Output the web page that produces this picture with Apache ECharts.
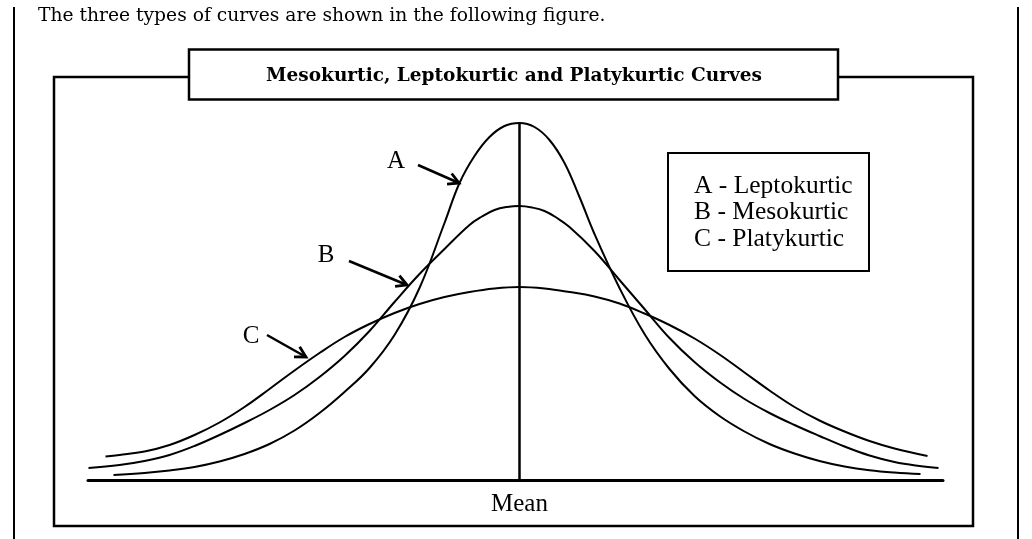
<!DOCTYPE html>
<html>
<head>
<meta charset="utf-8">
<script src="https://cdn.jsdelivr.net/npm/echarts@6/dist/echarts.min.js"></script>
<style>
  html, body { margin: 0; padding: 0; background: #ffffff; }
  #chart { width: 1032px; height: 539px; }
</style>
</head>
<body>
<div id="chart"></div>
<script>
// Text content
const introText = 'The three types of curves are shown in the following figure.';
const titleText = 'Mesokurtic, Leptokurtic and Platykurtic Curves';
const curveLetters = ['A', 'B', 'C'];
const curveNames = ['Leptokurtic', 'Mesokurtic', 'Platykurtic'];
const meanLabel = 'Mean';
const meanX = 0;

// Frequency curves: [deviation from mean, relative frequency]
const leptokurtic = [
  [-4.06, 0.05], [-3.75, 0.07], [-3.50, 0.095], [-3.25, 0.13], [-3.00, 0.185],
  [-2.75, 0.26], [-2.50, 0.36], [-2.25, 0.495], [-2.00, 0.67], [-1.75, 0.88],
  [-1.50, 1.12], [-1.25, 1.45], [-1.00, 1.92], [-0.75, 2.57], [-0.60, 2.97],
  [-0.45, 3.24], [-0.30, 3.43], [-0.15, 3.54], [0.00, 3.57], [0.15, 3.53],
  [0.30, 3.40], [0.45, 3.17], [0.60, 2.83], [0.75, 2.46],
  [1.00, 1.92], [1.25, 1.46], [1.50, 1.11], [1.75, 0.84], [2.00, 0.64],
  [2.25, 0.485], [2.50, 0.36], [2.75, 0.265], [3.00, 0.19], [3.25, 0.135],
  [3.50, 0.098], [3.75, 0.075], [4.01, 0.06]
];
const mesokurtic = [
  [-4.31, 0.12], [-4.00, 0.15], [-3.75, 0.19], [-3.50, 0.25], [-3.25, 0.34],
  [-3.00, 0.45], [-2.75, 0.57], [-2.50, 0.70], [-2.25, 0.85], [-2.00, 1.03],
  [-1.75, 1.24], [-1.50, 1.49], [-1.25, 1.78], [-1.00, 2.06], [-0.75, 2.31],
  [-0.50, 2.55], [-0.375, 2.635], [-0.25, 2.70], [-0.125, 2.73], [0.00, 2.74],
  [0.125, 2.725], [0.25, 2.69], [0.375, 2.62], [0.50, 2.53],
  [0.75, 2.29], [1.00, 2.00], [1.25, 1.71], [1.50, 1.42], [1.75, 1.18],
  [2.00, 0.98], [2.25, 0.81], [2.50, 0.67], [2.75, 0.55], [3.00, 0.44],
  [3.25, 0.335], [3.50, 0.245], [3.75, 0.18], [4.00, 0.14], [4.19, 0.12]
];
const platykurtic = [
  [-4.14, 0.235], [-4.00, 0.25], [-3.75, 0.285], [-3.50, 0.35], [-3.25, 0.45],
  [-3.00, 0.575], [-2.75, 0.73], [-2.50, 0.91], [-2.25, 1.095], [-2.00, 1.27],
  [-1.75, 1.43], [-1.50, 1.56], [-1.25, 1.67], [-1.00, 1.76], [-0.75, 1.83],
  [-0.50, 1.88], [-0.25, 1.915], [0.00, 1.93], [0.25, 1.915], [0.50, 1.88],
  [0.75, 1.835], [1.00, 1.765], [1.25, 1.665], [1.50, 1.55], [1.75, 1.415],
  [2.00, 1.255], [2.25, 1.075], [2.50, 0.895], [2.75, 0.73], [3.00, 0.595],
  [3.25, 0.485], [3.50, 0.39], [3.75, 0.315], [4.08, 0.24]
];

const INK = '#000000';
const serifFont = '"Liberation Serif", "Times New Roman", serif';
const bookFont = '"DejaVu Serif", serif';

const peak = Math.max(...leptokurtic.map(p => p[1]));

function curveSeries(name, data) {
  return {
    name: name,
    type: 'line',
    data: data,
    smooth: 0.4,
    showSymbol: false,
    symbol: 'none',
    silent: true,
    lineStyle: { color: INK, width: 2 },
    z: 3
  };
}

// Arrow: shaft plus open V head pointing at (x2, y2)
function arrow(x1, y1, x2, y2) {
  const ang = Math.atan2(y2 - y1, x2 - x1);
  const len = 12, spread = 0.5;
  const h1 = [x2 - len * Math.cos(ang - spread), y2 - len * Math.sin(ang - spread)];
  const h2 = [x2 - len * Math.cos(ang + spread), y2 - len * Math.sin(ang + spread)];
  return [
    { type: 'line', shape: { x1, y1, x2, y2 }, style: { stroke: INK, lineWidth: 2.5 } },
    { type: 'polyline', shape: { points: [h1, [x2, y2], h2] }, style: { stroke: INK, lineWidth: 2.8, fill: null } }
  ];
}

const graphics = [
  // page rules
  { type: 'line', shape: { x1: 14, y1: 7, x2: 14, y2: 539 }, style: { stroke: INK, lineWidth: 2 } },
  { type: 'line', shape: { x1: 1018, y1: 7, x2: 1018, y2: 539 }, style: { stroke: INK, lineWidth: 2 } },
  // intro sentence
  { type: 'text', x: 38, y: 16, style: { text: introText, font: '18.7px ' + bookFont, fill: INK, verticalAlign: 'middle' } },
  // figure frame
  { type: 'polyline', shape: { points: [[189, 77], [54, 77], [54, 526], [973, 526], [973, 77], [838, 77]] },
    style: { stroke: INK, lineWidth: 2.5, fill: null } },
  // title box
  { type: 'rect', shape: { x: 189, y: 49.5, width: 649, height: 50 },
    style: { stroke: INK, lineWidth: 2.5, fill: '#ffffff' } },
  { type: 'text', x: 514, y: 76, style: { text: titleText, font: 'bold 18.5px ' + bookFont, fill: INK,
    align: 'center', verticalAlign: 'middle' } },
  // key box
  { type: 'rect', shape: { x: 668, y: 153, width: 201, height: 118 },
    style: { stroke: INK, lineWidth: 2, fill: '#ffffff' }, z: 10 },
  // curve letters
  { type: 'text', x: 396, y: 161, style: { text: curveLetters[0], font: '25px ' + serifFont, fill: INK, align: 'center', verticalAlign: 'middle' } },
  { type: 'text', x: 326, y: 255, style: { text: curveLetters[1], font: '25px ' + serifFont, fill: INK, align: 'center', verticalAlign: 'middle' } },
  { type: 'text', x: 251, y: 336, style: { text: curveLetters[2], font: '25px ' + serifFont, fill: INK, align: 'center', verticalAlign: 'middle' } }
]
.concat(arrow(418, 165, 459, 183))
.concat(arrow(349, 261, 407, 285))
.concat(arrow(267, 335, 306, 357));

// key entries
[186, 212, 239].forEach((y, i) => {
  graphics.push({ type: 'text', x: 694, y: y, z: 11,
    style: { text: curveLetters[i] + ' - ' + curveNames[i], font: '25.5px ' + serifFont, fill: INK, verticalAlign: 'middle' } });
});

const chart = echarts.init(document.getElementById('chart'), null, { renderer: 'canvas' });
chart.setOption({
  animation: false,
  backgroundColor: '#ffffff',
  grid: { left: 88, right: 89, top: 80, bottom: 59 },
  xAxis: {
    type: 'value',
    min: -4.315,
    max: 4.235,
    splitLine: { show: false },
    axisTick: { show: false },
    axisLine: { show: true, onZero: false, lineStyle: { color: INK, width: 3 } },
    axisLabel: {
      customValues: [meanX],
      formatter: () => meanLabel,
      color: INK,
      fontFamily: serifFont,
      fontSize: 25,
      margin: 12
    }
  },
  yAxis: { type: 'value', min: 0, max: 4, show: false },
  series: [
    curveSeries(curveNames[0], leptokurtic),
    curveSeries(curveNames[1], mesokurtic),
    curveSeries(curveNames[2], platykurtic),
    {
      name: meanLabel,
      type: 'line',
      data: [[meanX, 0], [meanX, peak]],
      showSymbol: false,
      symbol: 'none',
      silent: true,
      lineStyle: { color: INK, width: 2.5 },
      z: 4
    }
  ],
  graphic: graphics
});
</script>
</body>
</html>
